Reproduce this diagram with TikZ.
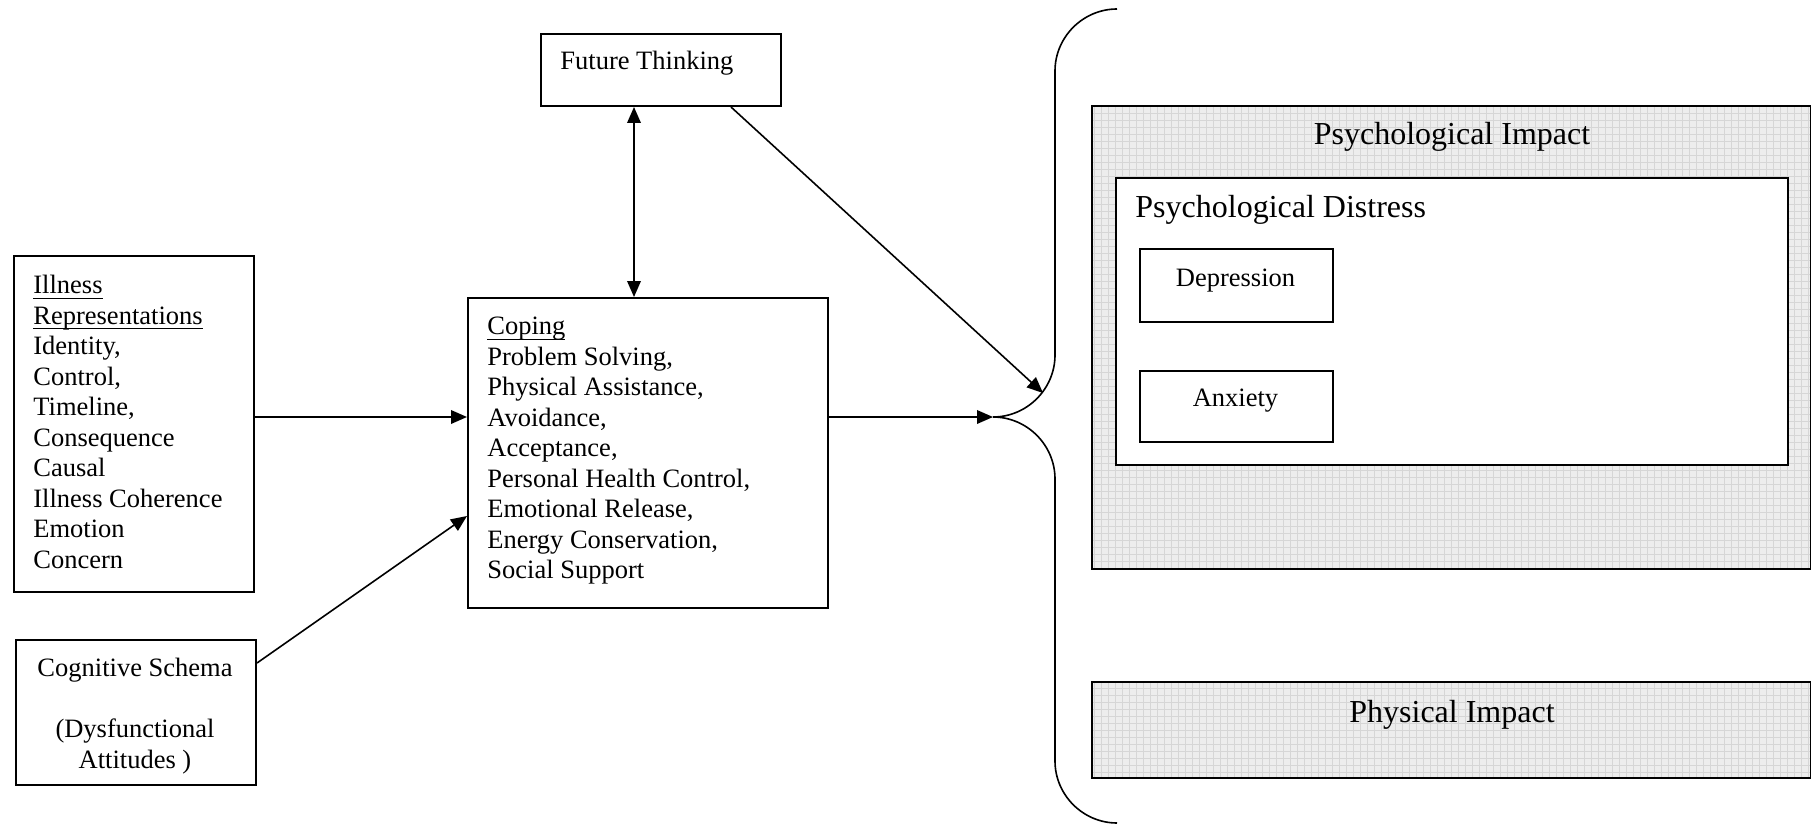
\documentclass[tikz,border=0pt]{standalone}
\usepackage{fontspec}
\setmainfont{Liberation Serif}
\usetikzlibrary{arrows.meta,calc}

\newcommand\stdtext{\fontsize{13.25pt}{15.25pt}\selectfont}
\newcommand\headtext{\fontsize{16pt}{19pt}\selectfont}
% underline drawn at a fixed depth below the baseline
\newcommand\lineunder[1]{\setbox0\hbox{#1}\rlap{\rule[-2.5pt]{\wd0}{0.6pt}}\box0}

\begin{document}
\begin{tikzpicture}[x=0.5pt,y=-0.5pt,
  box/.style={draw, line width=1pt, inner sep=0pt, anchor=north west},
  shaded/.style={box, fill=gray!14,
    path picture={\draw[gray!32, line width=0.25pt, step=3.5pt]
      (path picture bounding box.south west) grid (path picture bounding box.north east);}},
  plain/.style={box, fill=white},
  txt/.style={inner sep=0pt, font=\stdtext},
  head/.style={inner sep=0pt, font=\headtext},
  conn/.style={line width=0.8pt, -{Triangle[length=8pt,width=6.8pt]}},
  twoway/.style={line width=0.8pt, {Triangle[length=8pt,width=6.8pt]}-{Triangle[length=8pt,width=6.8pt]}},
  bracepath/.style={line width=0.8pt}
]
\useasboundingbox (0,0) rectangle (1811,824);

% ---------- left column ----------
\node[box, minimum width=120pt, minimum height=168pt] (ill) at (13,255) {};
\node[txt, anchor=north west, align=left] (illt) at (33,275)
  {\lineunder{Illness}\\\lineunder{Representations}\\Identity,\\Control,\\Timeline,\\Consequence\\Causal\\Illness Coherence\\Emotion\\Concern};

\node[box, minimum width=120pt, minimum height=72.5pt] (cog) at (15,639) {};
\node[txt, anchor=north, align=center] (cogt) at (135,658)
  {Cognitive Schema\\[15.25pt](Dysfunctional\\Attitudes )};

% ---------- middle column ----------
\node[box, minimum width=120pt, minimum height=36pt] (fut) at (540,33) {};
\node[txt, anchor=base west] (futt) at (560,70) {Future Thinking};

\node[box, minimum width=180pt, minimum height=155pt] (cop) at (467,297) {};
\node[txt, anchor=north west, align=left] (copt) at (487,317)
  {\lineunder{Coping}\\Problem Solving,\\Physical Assistance,\\Avoidance,\\Acceptance,\\Personal Health Control,\\Emotional Release,\\Energy Conservation,\\Social Support};

% ---------- outcome column ----------
\node[shaded, minimum width=359.5pt, minimum height=231.5pt] (psy) at (1091,105) {};
\node[head, anchor=base] (psyt) at (1452,145) {Psychological Impact};

\node[plain, minimum width=336pt, minimum height=143.5pt] (dis) at (1115,177) {};
\node[head, anchor=base west] (dist) at (1135,218) {Psychological Distress};

\node[box, minimum width=96.5pt, minimum height=36.5pt] (dep) at (1139,248) {};
\node[txt, anchor=base] (dept) at (1235.5,286) {Depression};

\node[box, minimum width=96.5pt, minimum height=35.5pt] (anx) at (1139,370) {};
\node[txt, anchor=base] (anxt) at (1235.5,406) {Anxiety};

\node[shaded, minimum width=359.5pt, minimum height=48pt] (phy) at (1091,681) {};
\node[head, anchor=base] (phyt) at (1452,722) {Physical Impact};

% ---------- brace gathering the outcomes ----------
\coordinate (tip) at (993,417);
\coordinate (bu) at (1055,355);
\coordinate (bl) at (1055,479);
\coordinate (btop) at (1117,9);
\coordinate (bbot) at (1117,823);
\draw[bracepath] (tip) .. controls (1027,417) and (1055,389) .. (bu)
  -- (1055,71) .. controls (1055,37) and (1083,9) .. (btop);
\draw[bracepath] (tip) .. controls (1027,417) and (1055,445) .. (bl)
  -- (1055,761) .. controls (1055,795) and (1083,823) .. (bbot);

% ---------- connectors ----------
\coordinate (lvl) at (0,417);
\coordinate (vx) at (634,0);
\coordinate (hit) at (1043,393);

\draw[conn] (ill.east |- lvl) -- (cop.west |- lvl);
\draw[conn] ($(cog.north east)+(0,24)$) -- ($(cop.north west)+(0,219)$);
\draw[twoway] (fut.south -| vx) -- (cop.north -| vx);
\draw[conn] ($(fut.south west)+(191,0)$) -- (hit);
\draw[conn] (cop.east |- lvl) -- (tip);

\end{tikzpicture}
\end{document}
